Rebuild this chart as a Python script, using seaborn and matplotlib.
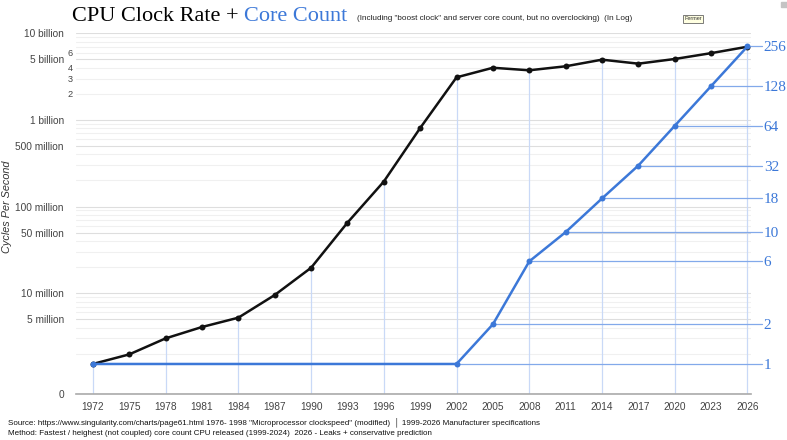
import matplotlib
matplotlib.use("Agg")
import matplotlib.pyplot as plt
import seaborn as sns
from matplotlib.ticker import FixedLocator, FuncFormatter, NullLocator
from matplotlib.patches import Rectangle

# ==========================================
# DATA
# ==========================================

years = list(range(1972, 2027, 3))
clock_hz = [1.52e6, 1.96e6, 3.0e6, 4.06e6, 5.2e6, 9.5e6, 19.6e6, 65e6, 194e6, 805e6,
            3.1e9, 4.0e9, 3.74e9, 4.16e9, 4.96e9, 4.46e9, 5.05e9, 5.9e9, 7.0e9]

core_years = [1972, 2002, 2005, 2008, 2011, 2014, 2017, 2020, 2023, 2026]
core_count = [1, 1, 2, 6, 10, 18, 32, 64, 128, 256]

left_ticks = [6.84e5, 5e6, 1e7, 5e7, 1e8, 5e8, 1e9, 5e9, 1e10]
left_labels = ["0", "5 million", "10 million", "50 million", "100 million",
               "500 million", "1 billion", "5 billion", "10 billion"]
small_ticks = [2e9, 3e9, 4e9, 6e9]
small_labels = ["2", "3", "4", "6"]

right_ticks = core_count[1:]
right_labels = [str(c) for c in right_ticks]

drop_years = years[::2]
drop_vals = clock_hz[::2]

BLUE = "#3c78d8"

# ==========================================
# FIGURE
# ==========================================

sns.set_style("white")
plt.rcParams['font.family'] = ['Liberation Sans', 'DejaVu Sans']

fig = plt.figure(figsize=(7.87, 4.40), dpi=100)
ax = fig.add_axes([75.5 / 787, 46 / 440, 675 / 787, 360.7 / 440])
ax.set_yscale('log')
ax.set_ylim(6.84e5, 1e10)
ax.set_xlim(1970.57, 2026.25)
ax.set_axisbelow(True)

ax2 = ax.twinx()
ax2.set_yscale('log', base=2)
ax2.set_ylim(0.592, 322)

# gridlines
minor_grid = [m * 10 ** k for k in range(6, 10) for m in (2, 3, 4, 6, 7, 8, 9)]
ax.yaxis.set_major_locator(FixedLocator(left_ticks))
ax.yaxis.set_major_formatter(FuncFormatter(lambda v, p: dict(zip(left_ticks, left_labels)).get(v, "")))
ax.yaxis.set_minor_locator(FixedLocator(minor_grid))
ax.yaxis.set_minor_formatter(FuncFormatter(lambda v, p: dict(zip(small_ticks, small_labels)).get(v, "")))
ax.grid(which='major', axis='y', color='#dedede', lw=0.8)
ax.grid(which='minor', axis='y', color='#f0f0f0', lw=0.8)
ax.tick_params(axis='y', which='major', length=0, pad=8.3, labelsize=7.3, labelcolor='#444444')
ax.tick_params(axis='y', which='minor', length=0, pad=1.8, labelsize=6.6, labelcolor='#444444')

ax.set_xticks(years)
ax.set_xticklabels([str(y) for y in years])
ax.tick_params(axis='x', length=0, pad=5.5, labelsize=7.3, labelcolor='#444444')

for s in ['top', 'left', 'right']:
    ax.spines[s].set_visible(False)
ax.spines['bottom'].set_color('#aaaaaa')
ax.spines['bottom'].set_linewidth(1.2)
for s in ax2.spines.values():
    s.set_visible(False)

# drop lines
ax.vlines(drop_years, ax.get_ylim()[0], drop_vals, color='#c9d9f7', lw=0.9, zorder=1)

# clock rate
sns.lineplot(x=years, y=clock_hz, ax=ax, color='#111111', lw=1.8,
             marker='o', markersize=4.3, markeredgewidth=0, zorder=3)

# core count
for yr, c in zip(core_years[1:], core_count[1:]):
    ax2.plot([yr, 2027.2], [c, c], color='#82a9ea', lw=0.9, clip_on=False, zorder=1)
sns.lineplot(x=core_years, y=core_count, ax=ax2, color=BLUE, lw=1.8,
             marker='o', markersize=4.3, markeredgewidth=0, zorder=3)

ax2.yaxis.set_major_locator(FixedLocator(right_ticks))
ax2.set_yticklabels(right_labels)
ax2.yaxis.set_minor_locator(NullLocator())
ax2.tick_params(axis='y', length=0, pad=9.5, labelsize=11, labelcolor=BLUE)
for lab in ax2.get_yticklabels():
    lab.set_fontfamily('Liberation Serif')
ax.set_ylabel("")
ax2.set_ylabel("")
ax.set_xlabel("")

# ==========================================
# TEXTS
# ==========================================

fig.text(72 / 787, 1 - 21 / 440, "CPU Clock Rate + ", family='Liberation Serif',
         fontsize=16, va='baseline', color='black')
fig.text(244 / 787, 1 - 21 / 440, "Core Count", family='Liberation Serif',
         fontsize=16, va='baseline', color=BLUE)
fig.text(357 / 787, 1 - 19.5 / 440,
         '(Including "boost clock" and server core count, but no overclocking)  (In Log)',
         fontsize=5.85, va='baseline', color='#222222')
fig.text(693 / 787, 1 - 19 / 440, "Fermer", fontsize=4, ha='center', va='center',
         color='#333333',
         bbox=dict(boxstyle='square,pad=0.3', fc='#ffffe1', ec='#666666', lw=0.6))
fig.patches.append(Rectangle((781 / 787, 1 - 7.3 / 440), 5.7 / 787, 5.6 / 440,
                             transform=fig.transFigure, color='#c4c4c4'))

fig.text(7 / 787, 1 - 207 / 440, "Cycles Per Second", rotation=90, style='italic',
         fontsize=7.8, color='#333333', ha='center', va='center')

fig.text(8 / 787, 1 - 422 / 440,
         'Source: https://www.singularity.com/charts/page61.html 1976- 1998 '
         '"Microprocessor clockspeed" (modified)  \u2502 1999-2026 Manufacturer specifications',
         fontsize=5.77, va='center', color='#111111')
fig.text(8 / 787, 1 - 433.5 / 440,
         'Method: Fastest / heighest (not coupled) core count CPU released (1999-2024)  '
         '2026 - Leaks + conservative prediction',
         fontsize=5.77, va='center', color='#111111')

fig.savefig("out.png", dpi=100)
